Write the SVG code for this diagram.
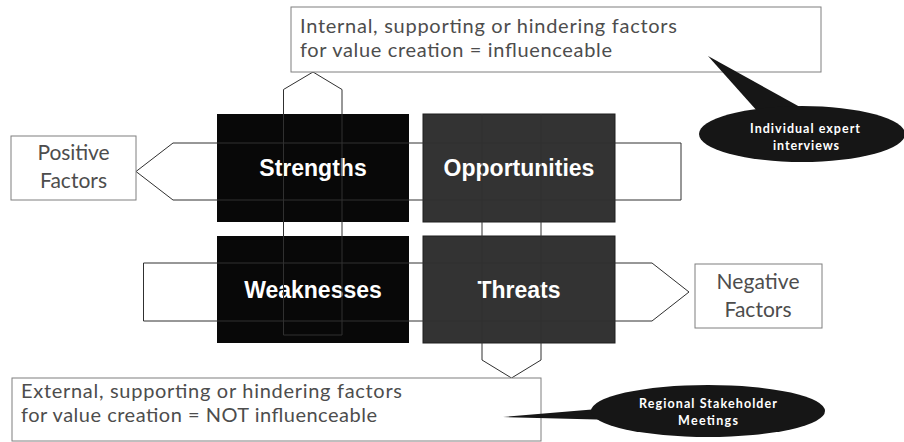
<svg xmlns="http://www.w3.org/2000/svg" width="904" height="442" viewBox="0 0 904 442">
  <style>
    .note { fill: #ffffff; stroke: #7f7f7f; stroke-width: 1; }
    .note-text { font-family: Lato, "Open Sans", sans-serif; font-size: 20px; fill: #4d4d4d; }
    .side-text { font-family: Lato, "Open Sans", sans-serif; font-size: 21px; fill: #4d4d4d; text-anchor: middle; }
    .quad-dark { fill: #080808; }
    .quad-grey { fill: #333333; stroke: #1f1f1f; stroke-width: 1; }
    .quad-text { font-family: "Liberation Sans", Arial, sans-serif; font-size: 23px; font-weight: bold; fill: #ffffff; text-anchor: middle; }
    .arrow { fill: none; stroke: #303030; stroke-width: 1; }
    .bubble { fill: #161616; }
    .bubble-text { font-family: Lato, "Open Sans", sans-serif; font-size: 12.5px; font-weight: bold; fill: #ffffff; text-anchor: middle; }
  </style>

  <!-- SWOT quadrants -->
  <g id="strengths">
    <rect class="quad-dark" x="217" y="114" width="192" height="108"/>
    <text class="quad-text" x="313" y="176">Strengths</text>
  </g>
  <g id="opportunities">
    <rect class="quad-grey" x="423" y="114" width="192" height="108"/>
    <text class="quad-text" x="519" y="176">Opportunities</text>
  </g>
  <g id="weaknesses">
    <rect class="quad-dark" x="217" y="236" width="192" height="107"/>
    <text class="quad-text" x="313" y="298">Weaknesses</text>
  </g>
  <g id="threats">
    <rect class="quad-grey" x="423" y="236" width="192" height="107"/>
    <text class="quad-text" x="519" y="298">Threats</text>
  </g>

  <!-- block arrows, outline only, laid over the quadrants -->
  <g id="connectors">
    <path class="arrow" d="M283.5,335 L283.5,89.5 L313,72 L342,89.5 L342,335 Z"/>
    <path class="arrow" d="M482,114 L482,360 L511.5,378 L541,360 L541,114"/>
    <path class="arrow" d="M681,143 L173,143 L136,171.5 L173,200 L681,200 Z"/>
    <path class="arrow" d="M143.5,263 L652,263 L689,292 L652,321 L143.5,321 Z"/>
  </g>

  <!-- text boxes -->
  <g id="internal-note">
    <rect class="note" x="291" y="7" width="530" height="65"/>
    <text class="note-text" x="300" y="33" textLength="377">Internal, supporting or hindering factors</text>
    <text class="note-text" x="300" y="57" textLength="312">for value creation = influenceable</text>
  </g>
  <g id="external-note">
    <rect class="note" x="12" y="378" width="529" height="63"/>
    <text class="note-text" x="21" y="398" textLength="381">External, supporting or hindering factors</text>
    <text class="note-text" x="21" y="422" textLength="356">for value creation = NOT influenceable</text>
  </g>
  <g id="positive-factors">
    <rect class="note" x="11" y="136" width="125" height="64"/>
    <text class="side-text" x="73.5" y="160" textLength="72">Positive</text>
    <text class="side-text" x="73.5" y="188" textLength="67">Factors</text>
  </g>
  <g id="negative-factors">
    <rect class="note" x="695" y="264" width="127" height="64"/>
    <text class="side-text" x="758" y="289" textLength="83">Negative</text>
    <text class="side-text" x="758" y="317" textLength="67">Factors</text>
  </g>

  <!-- speech bubbles -->
  <g id="expert-interviews">
    <path class="bubble" d="M708,56 L758,112 L800,107 Z"/>
    <ellipse class="bubble" cx="802" cy="134" rx="103" ry="28"/>
    <text class="bubble-text" x="805" y="133" textLength="110">Individual expert</text>
    <text class="bubble-text" x="806" y="150" textLength="66">interviews</text>
  </g>
  <g id="stakeholder-meetings">
    <path class="bubble" d="M503,417 L592,409.5 C598,408 602,404 610,399 L610,424 C604,421 600,420 597,419.5 Z"/>
    <ellipse class="bubble" cx="708" cy="411" rx="117" ry="26"/>
    <text class="bubble-text" x="708" y="408" textLength="138">Regional Stakeholder</text>
    <text class="bubble-text" x="708" y="425" textLength="60">Meetings</text>
  </g>
</svg>
